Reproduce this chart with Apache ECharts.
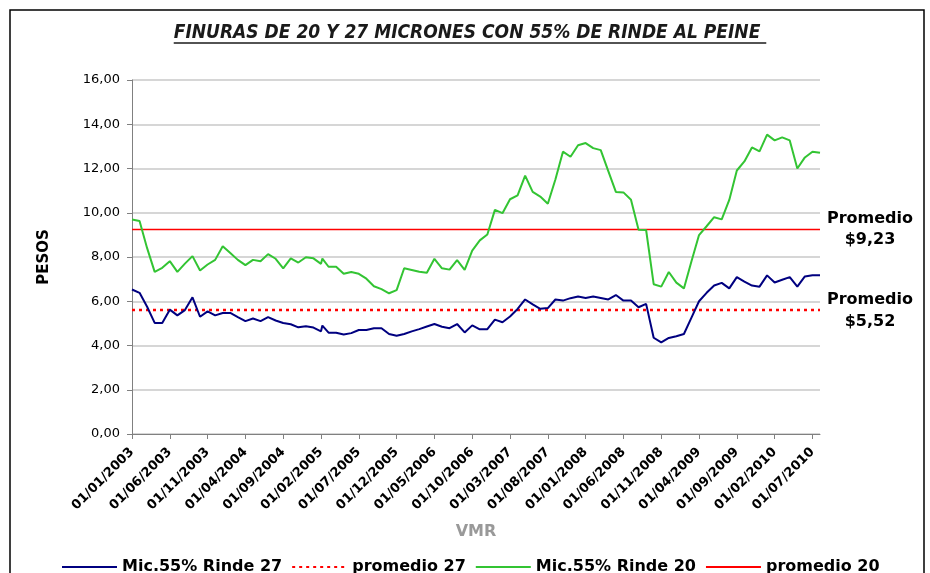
<!DOCTYPE html>
<html><head><meta charset="utf-8">
<script src="https://cdn.jsdelivr.net/npm/echarts@6/dist/echarts.min.js"></script>
<style>html,body{margin:0;padding:0;background:#fff}#c{width:930px;height:573px}</style>
</head><body><div id="c"></div><script>
// ---- data ----
const dates = [
 '01/01/2003','01/02/2003','01/03/2003','01/04/2003','01/05/2003','01/06/2003','01/07/2003','01/08/2003','01/09/2003','01/10/2003','01/11/2003','01/12/2003',
 '01/01/2004','01/02/2004','01/03/2004','01/04/2004','01/05/2004','01/06/2004','01/07/2004','01/08/2004','01/09/2004','01/10/2004','01/11/2004','01/12/2004',
 '01/01/2005','01/02/2005','06/02/2005','01/03/2005','01/04/2005','01/05/2005','01/06/2005','01/07/2005','01/08/2005','01/09/2005','01/10/2005','01/11/2005','01/12/2005',
 '01/01/2006','01/02/2006','01/03/2006','01/04/2006','01/05/2006','01/06/2006','01/07/2006','01/08/2006','01/09/2006','01/10/2006','01/11/2006','01/12/2006',
 '01/01/2007','01/02/2007','01/03/2007','01/04/2007','01/05/2007','01/06/2007','01/07/2007','01/08/2007','01/09/2007','01/10/2007','01/11/2007','01/12/2007',
 '01/01/2008','01/02/2008','01/03/2008','01/04/2008','01/05/2008','01/06/2008','01/07/2008','01/08/2008','01/09/2008','01/10/2008','01/11/2008','01/12/2008',
 '01/01/2009','01/02/2009','01/03/2009','01/04/2009','01/05/2009','01/06/2009','01/07/2009','01/08/2009','01/09/2009','01/10/2009','01/11/2009','01/12/2009',
 '01/01/2010','01/02/2010','01/03/2010','01/04/2010','01/05/2010','01/06/2010','01/07/2010','01/08/2010'
];
const rinde27 = [
 6.53,6.38,5.75,5.02,5.02,5.62,5.36,5.60,6.18,5.30,5.54,5.36,
 5.47,5.47,5.28,5.10,5.22,5.10,5.28,5.13,5.02,4.96,4.82,4.87,
 4.81,4.64,4.90,4.58,4.58,4.50,4.56,4.70,4.70,4.78,4.78,4.52,4.44,
 4.52,4.64,4.74,4.86,4.97,4.85,4.78,4.97,4.59,4.91,4.73,4.74,
 5.17,5.05,5.31,5.65,6.08,5.86,5.66,5.69,6.08,6.03,6.14,6.21,
 6.15,6.21,6.15,6.08,6.28,6.03,6.03,5.73,5.88,4.35,4.14,4.34,
 4.42,4.52,5.26,6.00,6.38,6.71,6.83,6.58,7.09,6.89,6.71,6.66,
 7.17,6.85,6.97,7.09,6.66,7.12,7.18,7.18
];
const rinde20 = [
 9.69,9.63,8.40,7.33,7.51,7.81,7.33,7.70,8.04,7.39,7.66,7.87,
 8.49,8.18,7.87,7.63,7.87,7.81,8.13,7.92,7.49,7.94,7.75,7.99,
 7.94,7.69,7.93,7.56,7.56,7.24,7.32,7.24,7.02,6.68,6.55,6.36,6.50,
 7.49,7.41,7.33,7.29,7.92,7.49,7.43,7.86,7.42,8.29,8.75,9.02,
 10.13,9.98,10.61,10.79,11.68,10.94,10.73,10.41,11.50,12.76,12.53,13.05,
 13.15,12.92,12.83,11.88,10.94,10.92,10.59,9.23,9.22,6.77,6.66,7.32,
 6.84,6.58,7.81,8.99,9.39,9.80,9.70,10.58,11.91,12.32,12.95,12.77,
 13.53,13.27,13.41,13.27,12.00,12.50,12.76,12.71
];
const promedio27 = 5.61;
const promedio20 = 9.24;
const promedio27Label = '$5,52';
const promedio20Label = '$9,23';
const tickLabels = ['01/01/2003','01/06/2003','01/11/2003','01/04/2004','01/09/2004','01/02/2005','01/07/2005','01/12/2005','01/05/2006','01/10/2006','01/03/2007','01/08/2007','01/01/2008','01/06/2008','01/11/2008','01/04/2009','01/09/2009','01/02/2010','01/07/2010'];
const yTicks = [0,2,4,6,8,10,12,14,16];

// ---- helpers ----
function monthPos(s){
  const p = s.split('/').map(Number);
  const dim = new Date(p[2], p[1], 0).getDate();
  return (p[2]-2003)*12 + (p[1]-1) + (p[0]-1)/dim;
}
const xs = dates.map(monthPos);
const tickPos = tickLabels.map(monthPos);
const xMin = xs[0], xMax = xs[xs.length-1];
const FONT = "'DejaVu Sans', Verdana, sans-serif";
const TITLE = 'FINURAS DE 20 Y 27 MICRONES CON 55% DE RINDE AL PEINE ';
const titleFont = "italic bold 19px 'DejaVu Sans Condensed', 'DejaVu Sans', sans-serif";
const cv = document.createElement('canvas').getContext('2d');
cv.font = titleFont;
const tW = cv.measureText(TITLE).width;
const tX = 470, tY = 33;

const chart = echarts.init(document.getElementById('c'));
chart.setOption({
  animation:false,
  backgroundColor:'#fff',
  grid:{left:132, right:110, top:80, bottom:139, containLabel:false},
  xAxis:{
    type:'value', min:xMin, max:xMax,
    name:'VMR', nameLocation:'middle', nameGap:90,
    nameTextStyle:{color:'#999', fontWeight:'bold', fontSize:16, fontFamily:FONT},
    axisLine:{lineStyle:{color:'#808080', width:1}},
    axisTick:{show:true, length:5, lineStyle:{color:'#808080'}, customValues:tickPos},
    axisLabel:{rotate:45, margin:16, fontSize:13, fontWeight:'bold', color:'#000', fontFamily:FONT,
      customValues:tickPos,
      formatter:function(v){ const i = tickPos.findIndex(t=>Math.abs(t-v)<1e-6); return i>=0?tickLabels[i]:''; }},
    splitLine:{show:false}
  },
  yAxis:{
    type:'value', min:yTicks[0], max:yTicks[yTicks.length-1], interval:2,
    name:'PESOS', nameLocation:'middle', nameGap:80, nameRotate:90,
    nameTextStyle:{color:'#000', fontWeight:'bold', fontSize:15, fontFamily:FONT},
    axisLine:{show:true, lineStyle:{color:'#808080', width:1}},
    axisTick:{show:true, length:5, lineStyle:{color:'#808080'}},
    axisLabel:{fontSize:13, color:'#000', fontFamily:FONT, margin:12,
      formatter:function(v){return v.toFixed(2).replace('.',',');}},
    splitLine:{lineStyle:{color:'#c8c8c8', width:1.5}}
  },
  legend:{
    left:56, top:554, itemWidth:55, itemHeight:12, itemGap:9,
    itemStyle:{opacity:0},
    textStyle:{fontSize:16, fontWeight:'bold', color:'#000', fontFamily:FONT},
    data:['Mic.55% Rinde 27','promedio 27','Mic.55% Rinde 20','promedio 20']
  },
  series:[
    {name:'Mic.55% Rinde 27', type:'line', symbol:'none', data:xs.map((x,i)=>[x, rinde27[i]]),
     lineStyle:{color:'#000080', width:2}, itemStyle:{color:'#000080'}, z:4},
    {name:'promedio 27', type:'line', symbol:'none', data:[[xMin,promedio27],[xMax,promedio27]],
     lineStyle:{color:'#ff0000', width:2.5, type:[3,4]}, itemStyle:{color:'#ff0000'}, z:3},
    {name:'Mic.55% Rinde 20', type:'line', symbol:'none', data:xs.map((x,i)=>[x, rinde20[i]]),
     lineStyle:{color:'#33c433', width:2}, itemStyle:{color:'#33c433'}, z:4},
    {name:'promedio 20', type:'line', symbol:'none', data:[[xMin,promedio20],[xMax,promedio20]],
     lineStyle:{color:'#ff0000', width:1.5}, itemStyle:{color:'#ff0000'}, z:3}
  ],
  graphic:[
    {type:'rect', shape:{x:10, y:10, width:914, height:580}, style:{fill:null, stroke:'#000', lineWidth:1.5}, silent:true},
    {type:'text', x:tX, y:tY, style:{text:TITLE, font:titleFont, fill:'#1a1a1a', align:'center', verticalAlign:'middle'}},
    {type:'line', shape:{x1:tX-tW/2, y1:tY+10, x2:tX+tW/2, y2:tY+10}, style:{stroke:'#1a1a1a', lineWidth:1.3}},
    {type:'text', x:870, y:219, style:{text:'Promedio', font:"bold 16px 'DejaVu Sans', sans-serif", fill:'#000', align:'center', verticalAlign:'middle'}},
    {type:'text', x:870, y:240, style:{text:promedio20Label, font:"bold 16px 'DejaVu Sans', sans-serif", fill:'#000', align:'center', verticalAlign:'middle'}},
    {type:'text', x:870, y:300, style:{text:'Promedio', font:"bold 16px 'DejaVu Sans', sans-serif", fill:'#000', align:'center', verticalAlign:'middle'}},
    {type:'text', x:870, y:322, style:{text:promedio27Label, font:"bold 16px 'DejaVu Sans', sans-serif", fill:'#000', align:'center', verticalAlign:'middle'}}
  ]
});
</script></body></html>
